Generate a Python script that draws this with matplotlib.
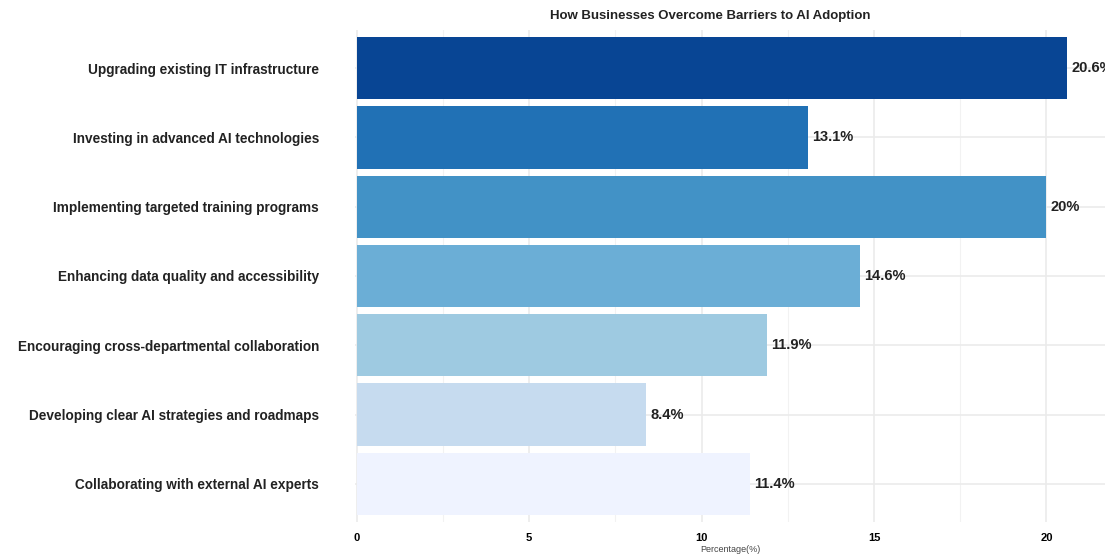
import numpy as np
import matplotlib
matplotlib.use("Agg")
import matplotlib.pyplot as plt
from matplotlib.ticker import MultipleLocator

categories = [
    "Upgrading existing IT infrastructure",
    "Investing in advanced AI technologies",
    "Implementing targeted training programs",
    "Enhancing data quality and accessibility",
    "Encouraging cross-departmental collaboration",
    "Developing clear AI strategies and roadmaps",
    "Collaborating with external AI experts",
]
values = [20.6, 13.1, 20.0, 14.6, 11.9, 8.4, 11.4]
labels = ["20.6%", "13.1%", "20%", "14.6%", "11.9%", "8.4%", "11.4%"]
colors = ["#084594", "#2171b5", "#4292c6", "#6baed6", "#9ecae1", "#c6dbef", "#eff3ff"]

plt.rcParams['font.family'] = ['Liberation Sans', 'DejaVu Sans']

fig = plt.figure(figsize=(11.05, 5.6), dpi=100)
ax = fig.add_axes([355 / 1105, 1 - 522 / 560, 750 / 1105, (522 - 30) / 560])

y = np.arange(len(categories))[::-1]
ax.barh(y, values, height=0.9, color=colors, zorder=2)
for yi, v, lab in zip(y, values, labels):
    ax.text(v + 0.12, yi, lab, va='center', ha='left', fontsize=10.5,
            fontweight='bold', color='#222222', clip_on=False)

ax.set_xlim(-0.05, 21.7)
ax.set_ylim(-0.55, len(categories) - 0.45)
ax.set_yticks(y)
ax.set_yticklabels(categories, fontsize=9.8, fontweight='bold', color='#222222')
ax.xaxis.set_major_locator(MultipleLocator(5))
ax.xaxis.set_minor_locator(MultipleLocator(2.5))
ax.tick_params(axis='x', labelsize=8, length=0, pad=8, which='both')
for t in ax.get_xticklabels():
    t.set_fontweight('bold')
ax.tick_params(axis='y', length=0, pad=26)
ax.grid(True, which='major', color='#ebebeb', linewidth=1.2, zorder=0)
ax.grid(True, which='minor', axis='x', color='#f2f2f2', linewidth=0.8, zorder=0)
for s in ax.spines.values():
    s.set_visible(False)

ax.set_xlabel("Percentage(%)", fontsize=6.5, color='#444444', labelpad=1)
ax.set_title("How Businesses Overcome Barriers to AI Adoption", fontsize=9.5,
             fontweight='bold', color='#222222', pad=8, x=0.473)

fig.savefig("out.png", dpi=100)
